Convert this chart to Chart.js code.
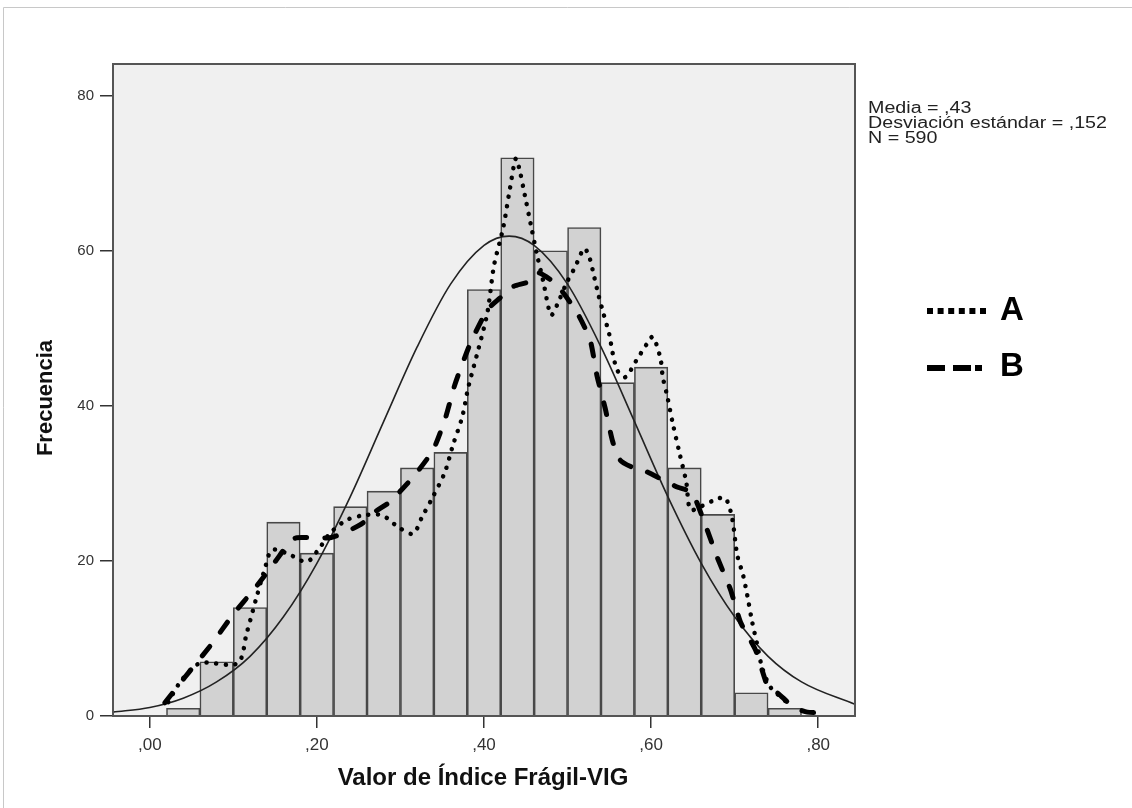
<!DOCTYPE html>
<html>
<head>
<meta charset="utf-8">
<script src="https://cdn.jsdelivr.net/npm/chart.js@4.4.1/dist/chart.umd.min.js"></script>
<style>
  html, body { margin: 0; padding: 0; background: #fff; }
</style>
</head>
<body>
<canvas id="histChart" width="1132" height="808"></canvas>
<script>
// --- datos del histograma ---
const binCenters = [0.04, 0.08, 0.12, 0.16, 0.20, 0.24, 0.28, 0.32, 0.36, 0.40,
                    0.44, 0.48, 0.52, 0.56, 0.60, 0.64, 0.68, 0.72, 0.76];
const counts = [1, 7, 14, 25, 21, 27, 29, 32, 34, 55, 72, 60, 63, 43, 45, 32, 26, 3, 1];

// curva normal
const normalX = [-0.044, 0, 0.04, 0.08, 0.12, 0.16, 0.20, 0.24, 0.28, 0.32, 0.36, 0.40, 0.43,
                 0.46, 0.50, 0.54, 0.58, 0.62, 0.66, 0.70, 0.74, 0.78, 0.844];
const normalY = [0.5, 1.1, 2.3, 4.4, 7.7, 12.8, 19.7, 28.3, 38.0, 47.6, 55.7, 60.7, 61.9,
                 60.7, 55.7, 47.6, 38.0, 28.3, 19.7, 12.8, 7.7, 4.4, 1.5];

// línea A (punteada)
const lineAX = [0.022, 0.038, 0.060, 0.105, 0.116, 0.128, 0.138, 0.146, 0.164, 0.188, 0.204, 0.216,
                0.236, 0.257, 0.278, 0.297, 0.315, 0.326, 0.338, 0.353, 0.363, 0.374, 0.381, 0.393,
                0.404, 0.412, 0.423, 0.431, 0.438, 0.442, 0.449, 0.456, 0.463, 0.471, 0.478, 0.481,
                0.489, 0.499, 0.509, 0.520, 0.526, 0.532, 0.537, 0.543, 0.550, 0.554, 0.560, 0.569,
                0.582, 0.595, 0.602, 0.611, 0.614, 0.619, 0.626, 0.634, 0.642, 0.647, 0.659, 0.679,
                0.689, 0.697, 0.703, 0.710, 0.715, 0.721, 0.727, 0.733, 0.743, 0.758, 0.766];
const lineAY = [1.8, 4.6, 6.8, 6.8, 10.7, 15.4, 19.1, 21.4, 21.0, 19.9, 21.8, 23.6,
                25.3, 25.9, 25.9, 24.4, 23.5, 25.7, 28.1, 31.4, 35.0, 38.6, 42.3, 47.2,
                52.0, 58.1, 63.0, 68.0, 71.9, 70.7, 67.1, 63.4, 59.7, 56.0, 52.3, 51.7,
                53.4, 55.9, 57.9, 60.3, 59.2, 56.6, 54.3, 51.9, 49.2, 46.8, 44.5, 43.7,
                45.8, 48.0, 48.9, 46.2, 43.7, 41.4, 37.7, 33.9, 30.2, 26.6, 27.0, 28.0,
                28.1, 25.5, 20.8, 18.2, 15.6, 12.1, 9.2, 6.2, 3.7, 2.2, 1.4];

// línea B (discontinua)
const lineBX = [0.018, 0.042, 0.051, 0.075, 0.099, 0.126, 0.150, 0.168, 0.176, 0.216, 0.240, 0.255,
                0.269, 0.287, 0.315, 0.339, 0.354, 0.365, 0.383, 0.404, 0.419, 0.435, 0.453, 0.465,
                0.487, 0.511, 0.527, 0.535, 0.545, 0.554, 0.563, 0.577, 0.595, 0.613, 0.632, 0.649,
                0.665, 0.679, 0.695, 0.707, 0.725, 0.740, 0.751, 0.770, 0.787, 0.811];
const lineBY = [1.7, 5.0, 6.2, 9.4, 13.0, 16.5, 19.9, 22.5, 23.0, 23.0, 24.0, 24.9,
                26.3, 27.6, 30.8, 34.3, 38.5, 42.7, 47.9, 52.4, 53.9, 55.4, 56.0, 57.2,
                55.6, 52.1, 48.5, 44.0, 39.7, 35.4, 33.0, 32.1, 31.5, 30.5, 29.5, 28.8,
                24.6, 20.5, 16.3, 12.1, 8.5, 3.7, 3.0, 1.2, 0.5, 0.5];

const xTicks = [0, 0.2, 0.4, 0.6, 0.8];
const yTicks = [0, 20, 40, 60, 80];
const statsText = ['Media = ,43', 'Desviación estándar = ,152', 'N = 590'];

const toPoints = (xs, ys) => xs.map((x, i) => ({ x: x, y: ys[i] }));
const sans = '"Liberation Sans", Arial, sans-serif';

// --- fondo, marco y textos ---
const decoPlugin = {
    id: 'deco',
    beforeDraw(chart) {
        const c = chart.ctx, a = chart.chartArea;
        c.save();
        c.fillStyle = '#fff';
        c.fillRect(0, 0, chart.width, chart.height);
        c.strokeStyle = '#c8c8c8';
        c.lineWidth = 1;
        c.beginPath();
        c.moveTo(3.5, chart.height);
        c.lineTo(3.5, 7.5);
        c.lineTo(chart.width, 7.5);
        c.stroke();
        c.fillStyle = '#f0f0f0';
        c.fillRect(a.left, a.top, a.right - a.left, a.bottom - a.top);
        c.restore();
    },
    afterDraw(chart) {
        const c = chart.ctx, a = chart.chartArea;
        c.save();
        c.strokeStyle = '#555';
        c.lineWidth = 2;
        c.strokeRect(a.left, a.top, a.right - a.left, a.bottom - a.top);

        // estadísticos (texto algo ensanchado como en el original)
        c.fillStyle = '#222';
        c.font = '16px ' + sans;
        c.textBaseline = 'alphabetic';
        c.textAlign = 'left';
        const k = 239 / c.measureText(statsText[1]).width;
        c.save();
        c.translate(868, 0);
        c.scale(k, 1);
        statsText.forEach((t, i) => c.fillText(t, 0, 113 + i * 15));
        c.restore();

        // leyenda A / B
        c.fillStyle = '#000';
        for (let x = 927; x < 982; x += 10.6) c.fillRect(x, 308, 6, 6);
        c.fillRect(927, 365, 18, 6);
        c.fillRect(953, 365, 18, 6);
        c.fillRect(975, 365, 7, 6);
        c.font = 'bold 33px ' + sans;
        c.fillText('A', 1000, 320);
        c.fillText('B', 1000, 376);

        // títulos de ejes
        c.fillStyle = '#111';
        c.font = 'bold 24px ' + sans;
        c.textAlign = 'center';
        c.textBaseline = 'middle';
        c.fillText('Valor de Índice Frágil-VIG', 483, 778);
        c.translate(46, 398);
        c.rotate(-Math.PI / 2);
        c.font = 'bold 22px ' + sans;
        c.fillText('Frecuencia', 0, 0);
        c.restore();
    }
};

const chart = new Chart(document.getElementById('histChart').getContext('2d'), {
    type: 'bar',
    data: {
        datasets: [
            {
                type: 'line',
                label: 'A',
                data: toPoints(lineAX, lineAY),
                borderColor: '#000',
                borderWidth: 4.5,
                borderDash: [0.1, 9.5],
                borderCapStyle: 'round',
                pointRadius: 0,
                tension: 0.3,
                order: 1
            },
            {
                type: 'line',
                label: 'B',
                data: toPoints(lineBX, lineBY),
                borderColor: '#000',
                borderWidth: 5,
                borderDash: [12, 18],
                borderCapStyle: 'round',
                pointRadius: 0,
                tension: 0.2,
                order: 2
            },
            {
                type: 'line',
                label: 'Normal',
                data: toPoints(normalX, normalY),
                borderColor: '#222',
                borderWidth: 1.6,
                pointRadius: 0,
                cubicInterpolationMode: 'monotone',
                order: 3
            },
            {
                type: 'bar',
                label: 'Frecuencia',
                data: toPoints(binCenters, counts),
                backgroundColor: '#d2d2d2',
                borderColor: '#484848',
                borderWidth: 1.6,
                barPercentage: 1,
                categoryPercentage: 1,
                order: 10
            }
        ]
    },
    options: {
        responsive: false,
        animation: false,
        layout: { padding: { left: 0, top: 64, right: 277, bottom: 0 } },
        plugins: {
            legend: { display: false },
            tooltip: { enabled: false }
        },
        scales: {
            x: {
                type: 'linear',
                min: -0.044,
                max: 0.844,
                offset: false,
                afterFit: (s) => { s.height = 92; },
                afterBuildTicks: (s) => { s.ticks = xTicks.map(v => ({ value: v })); },
                border: { display: false },
                grid: { offset: false, drawOnChartArea: false, drawTicks: true, tickLength: 12, color: '#333', lineWidth: 1.5 },
                ticks: {
                    font: { family: sans, size: 17 },
                    color: '#333',
                    padding: 7,
                    maxRotation: 0,
                    callback: (v) => v.toFixed(2).replace('0.', ',')
                }
            },
            y: {
                min: 0,
                max: 84.1,
                afterFit: (s) => { s.width = 113; },
                afterBuildTicks: (s) => { s.ticks = yTicks.map(v => ({ value: v })); },
                border: { display: false },
                grid: { drawOnChartArea: false, drawTicks: true, tickLength: 13, color: '#333', lineWidth: 1.5 },
                ticks: { font: { family: sans, size: 15 }, color: '#333', padding: 6 }
            }
        }
    },
    plugins: [decoPlugin]
});
</script>
</body>
</html>
